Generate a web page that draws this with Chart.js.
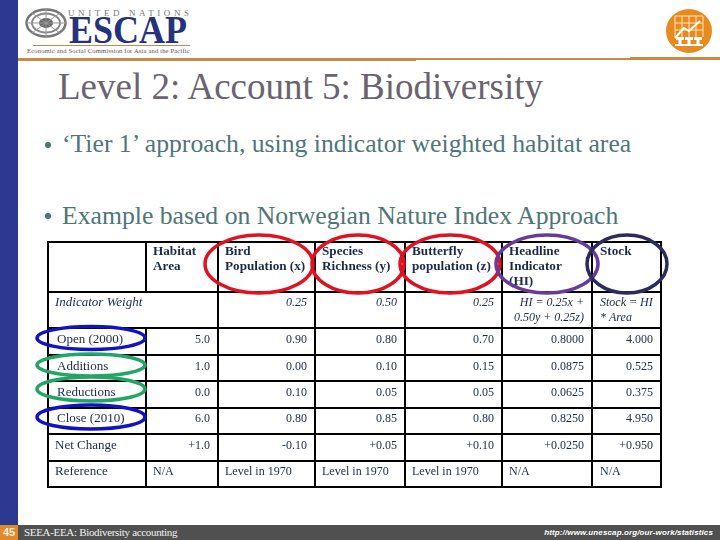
<!DOCTYPE html>
<html>
<head>
<meta charset="utf-8">
<title>Level 2: Account 5: Biodiversity</title>
<script src="https://cdn.jsdelivr.net/npm/chart.js@4/dist/chart.umd.min.js"></script>
<style>
  html, body { margin: 0; padding: 0; background: #fff; }
  #slide { position: relative; width: 720px; height: 540px; overflow: hidden; font-family: "Liberation Serif", serif; }
  #slide div, #slide svg { position: absolute; white-space: nowrap; }
  canvas { position: absolute; left: 0; top: 0; }
  .bar { background: #2b3990; left: 0; top: 0; width: 18px; height: 525px; }
  .rule { background: #c98a45; }
  .title { left: 58px; top: 65px; font-size: 37px; line-height: 44px; color: #6a6370; }
  .bullet { font-size: 25.7px; line-height: 30px; color: #4e7678; }
  .dot { left: 45px; width: 5.5px; height: 5.5px; border-radius: 50%; background: #4e7678; }
  .foot { background: #505050; left: 18px; top: 525px; width: 702px; height: 15px; }
  .page { background: #e08a2c; left: 0; top: 525px; width: 18px; height: 15px; color: #fbeedd; font: bold 11px/15px "Liberation Sans", sans-serif; text-align: center; }
  .footl { left: 24px; top: 525px; font-size: 11px; line-height: 15px; letter-spacing: -0.32px; color: #f0f0f0; }
  .footr { right: 7px; top: 525px; font: italic bold 8px/16px "Liberation Sans", sans-serif; letter-spacing: 0.12px; color: #fff; }
  .un { left: 68px; top: 8px; font-size: 9px; line-height: 11px; letter-spacing: 3.6px; color: #777; }
  .escap { left: 69px; top: 10px; font-size: 40px; font-weight: bold; line-height: 40px; color: #25337f; transform-origin: left top; transform: scaleX(0.9); }
  .sub { left: 27px; top: 46px; font-size: 6.6px; line-height: 9px; color: #555; letter-spacing: 0.15px; }
</style>
</head>
<body>
<div id="slide">
  <div class="bar"></div>
  <svg style="left:25px;top:8px" width="42" height="30" viewBox="0 0 42 30">
    <ellipse cx="21" cy="15" rx="19.5" ry="13.5" fill="none" stroke="#777" stroke-width="2.5"/>
    <ellipse cx="21" cy="15" rx="14" ry="9.5" fill="none" stroke="#888" stroke-width="2"/>
    <ellipse cx="21" cy="15" rx="7" ry="5" fill="#666"/>
    <path d="M21 1V29M1 15H41M7 5L35 25M35 5L7 25" stroke="#999" stroke-width="1"/>
  </svg>
  <div class="un">UNITED NATIONS</div>
  <div class="escap">ESCAP</div>
  <div class="rule" style="left:33px;top:45px;width:157px;height:1px"></div>
  <div class="sub">Economic and Social Commission for Asia and the Pacific</div>
  <svg style="left:666px;top:9px" width="46" height="44" viewBox="0 0 46 44">
    <ellipse cx="23" cy="22" rx="23" ry="22" fill="#e98a1e"/>
    <path d="M9 7H37M9 14H37M9 21H37M16 7V28M23 7V28M30 7V28M37 7V28M9 7V28" stroke="#fbe3c4" stroke-width="1" fill="none"/>
    <path d="M9 29L18 19L23 22L34 12" stroke="#fff" stroke-width="2" fill="none"/>
    <path d="M10 28H18V31H15.5V35H19V37H9V35H12.5V31H10ZM19 28H27V31H24.5V35H28V37H18V35H21.5V31H19ZM28 28H36V31H33.5V35H37V37H27V35H30.5V31H28Z" fill="#fff"/>
  </svg>
  <div class="rule" style="left:18px;top:58px;width:398px;height:3px"></div>
  <div class="rule" style="left:416px;top:58px;width:214px;height:2px"></div>
  <div class="rule" style="left:630px;top:57px;width:90px;height:3px"></div>
  <div class="title">Level 2: Account 5: Biodiversity</div>
  <div class="dot" style="top:142px"></div>
  <div class="bullet" style="left:62px;top:129px">‘Tier 1’ approach, using indicator weighted habitat area</div>
  <div class="dot" style="top:213px"></div>
  <div class="bullet" style="left:62px;top:201px">Example based on Norwegian Nature Index Approach</div>
  <div class="foot"></div>
  <div class="page">45</div>
  <div class="footl">SEEA-EEA: Biodiversity accounting</div>
  <div class="footr">http://www.unescap.org/our-work/statistics</div>
  <canvas id="table" width="720" height="540"></canvas>
</div>
<script>
// table contents
const headers = [[], ['Habitat', 'Area'], ['Bird', 'Population (x)'], ['Species', 'Richness (y)'], ['Butterfly', 'population (z)'], ['Headline', 'Indicator', '(HI)'], ['Stock']];
const rowLabels = ['Indicator Weight', 'Open (2000)', 'Additions', 'Reductions', 'Close (2010)', 'Net Change', 'Reference'];
const habitatArea = ['', '5.0', '1.0', '0.0', '6.0', '+1.0', 'N/A'];
const birdPopulation = ['0.25', '0.90', '0.00', '0.10', '0.80', '-0.10', 'Level in 1970'];
const speciesRichness = ['0.50', '0.80', '0.10', '0.05', '0.85', '+0.05', 'Level in 1970'];
const butterflyPopulation = ['0.25', '0.70', '0.15', '0.05', '0.80', '+0.10', 'Level in 1970'];
const headlineIndicator = [['HI = 0.25x +', '0.50y + 0.25z)'], '0.8000', '0.0875', '0.0625', '0.8250', '+0.0250', 'N/A'];
const stockValues = [['Stock = HI', '* Area'], '4.000', '0.525', '0.375', '4.950', '+0.950', 'N/A'];

// layout, in the units of the two scales
const colEdges = [48, 146, 218, 315, 405, 502, 592, 661];
const rowEdges = [242, 292, 328, 355, 381, 408, 434, 461, 487];
const rowCentres = [303, 340, 367, 393, 419, 446, 472];
const columns = [rowLabels, habitatArea, birdPopulation, speciesRichness, butterflyPopulation, headlineIndicator, stockValues];
const rings = [
  { x: 259, y: 264, rx: 54, ry: 29, color: '#e01222' },
  { x: 358, y: 264, rx: 46, ry: 29, color: '#e01222' },
  { x: 450, y: 264, rx: 50, ry: 29, color: '#e01222' },
  { x: 547, y: 264, rx: 51, ry: 29, color: '#6a3a98' },
  { x: 627, y: 264, rx: 40, ry: 29, color: '#2b2b5e' },
  { x: 91, y: 338, rx: 54, ry: 11.5, color: '#1212c4' },
  { x: 91, y: 365, rx: 54, ry: 11, color: '#22a565' },
  { x: 91, y: 389, rx: 54, ry: 12, color: '#22a565' },
  { x: 91, y: 417, rx: 54, ry: 12, color: '#1212c4' }
];

const INK = '#1b2a4a';

// grid lines as line datasets, the merged cell in the weight row leaves a gap
function gridLine(points) {
  return { data: points, showLine: true, pointRadius: 0, borderColor: '#000', borderWidth: 2, borderCapStyle: 'square' };
}
const lines = [];
rowEdges.forEach(y => lines.push(gridLine([{ x: colEdges[0], y }, { x: colEdges[7], y }])));
colEdges.forEach((x, i) => {
  if (i === 1) {
    lines.push(gridLine([{ x, y: rowEdges[0] }, { x, y: rowEdges[1] }]));
    lines.push(gridLine([{ x, y: rowEdges[2] }, { x, y: rowEdges[8] }]));
  } else {
    lines.push(gridLine([{ x, y: rowEdges[0] }, { x, y: rowEdges[8] }]));
  }
});

const tableText = {
  id: 'tableText',
  afterDatasetsDraw(chart) {
    const { ctx, scales: { x, y } } = chart;
    ctx.save();
    ctx.fillStyle = INK;
    ctx.textBaseline = 'middle';

    // header row
    ctx.font = 'bold 13.2px "Liberation Serif"';
    ctx.textAlign = 'left';
    headers.forEach((lines, c) => {
      const pad = c === 6 ? 8 : 7;
      lines.forEach((line, i) => ctx.fillText(line, x.getPixelForValue(colEdges[c] + pad), y.getPixelForValue(252 + i * 15)));
    });

    // body rows
    columns.forEach((col, c) => {
      col.forEach((cell, r) => {
        const italic = r === 0;
        const text = Array.isArray(cell) ? cell : [cell];
        const leftAligned = c === 0 || r === 6 || cell === stockValues[0];
        ctx.font = (italic ? 'italic ' : '') + (c === 0 ? '13px' : '12px') + ' "Liberation Serif"';
        ctx.textAlign = leftAligned ? 'left' : 'right';
        const px = leftAligned ? colEdges[c] + (c === 0 && r > 0 && r < 5 ? 9 : c === 6 ? 8 : 7) : colEdges[c + 1] - 8;
        const top = text.length > 1 ? 303 : rowCentres[r];
        text.forEach((line, i) => ctx.fillText(line, x.getPixelForValue(px), y.getPixelForValue(top + i * 15)));
      });
    });

    // ellipses round the rows and columns
    ctx.lineWidth = 3.5;
    rings.forEach(r => {
      ctx.strokeStyle = r.color;
      ctx.beginPath();
      ctx.ellipse(x.getPixelForValue(r.x), y.getPixelForValue(r.y), r.rx, r.ry, 0, 0, Math.PI * 2);
      ctx.stroke();
    });
    ctx.restore();
  }
};

new Chart(document.getElementById('table').getContext('2d'), {
  type: 'scatter',
  data: { datasets: lines },
  options: {
    responsive: false,
    animation: false,
    devicePixelRatio: 1,
    layout: { padding: 0 },
    plugins: { legend: { display: false }, tooltip: { enabled: false } },
    scales: {
      x: { type: 'linear', min: 0, max: 720, display: false },
      y: { type: 'linear', min: 0, max: 540, reverse: true, display: false }
    }
  },
  plugins: [tableText]
});
</script>
</body>
</html>
